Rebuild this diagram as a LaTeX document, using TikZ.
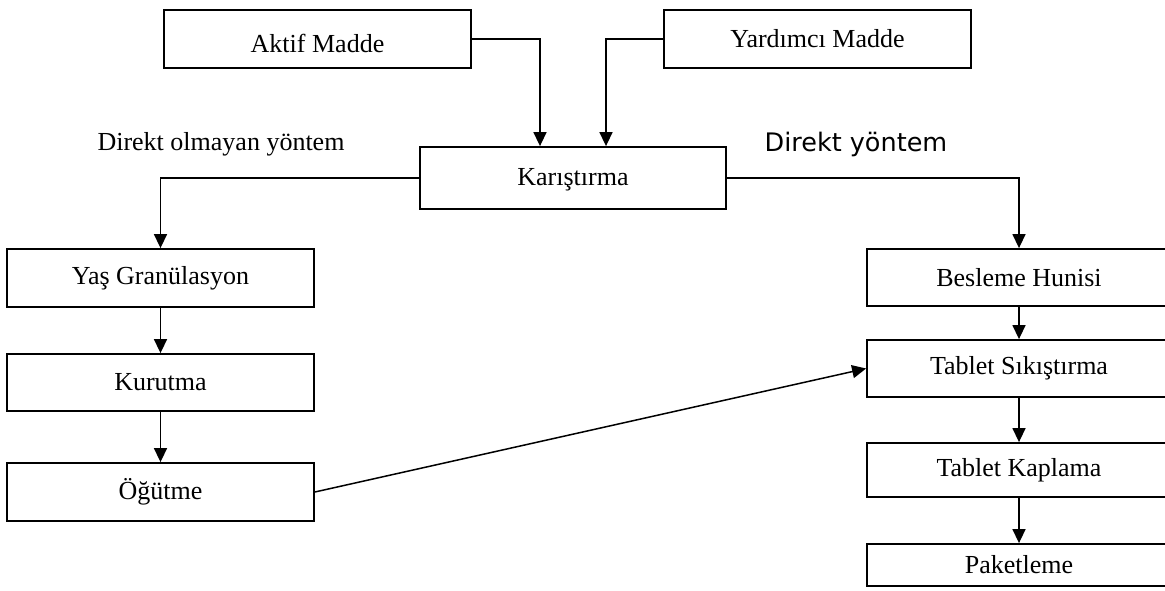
\documentclass[tikz,border=0pt]{standalone}
\usepackage{fontspec}
\setmainfont{Liberation Serif}
\newfontfamily\dejavu{DejaVu Sans}
\usetikzlibrary{arrows.meta}
\begin{document}
\begin{tikzpicture}[x=1pt,y=-1pt,
  box/.style={draw, line width=1.8pt, inner sep=0pt, minimum width=307pt, minimum height=58pt, font=\fontsize{26}{30}\selectfont},
  conn/.style={line width=1.5pt, -{Triangle[length=14pt,width=13pt]}},
  lbl/.style={anchor=base, inner sep=0pt, font=\fontsize{26}{30}\selectfont}]
\useasboundingbox (0,0) rectangle (1165,591);
\clip (0,0) rectangle (1165,591);
\fill[white] (0,0) rectangle (1165,591);
% top inputs
\node[box] (aktif) at (317.5,39) {\raisebox{-4pt}[\height][\depth]{Aktif Madde}};
\node[box] (yard) at (817.5,39) {Yardımcı Madde};
\node[box, minimum width=306pt, minimum height=62pt] (kar) at (573,178) {\raisebox{-2pt}[\height][\depth]{Karıştırma}};
% left column
\node[box] (yas) at (160.5,278) {Yaş Granülasyon};
\node[box, minimum height=57pt] (kur) at (160.5,382.5) {Kurutma};
\node[box] (ogut) at (160.5,492) {Öğütme};
% right column
\node[box, minimum width=304pt, minimum height=57pt] (bes) at (1019,277.5) {Besleme Hunisi};
\node[box, minimum width=304pt, minimum height=57pt] (sik) at (1019,368.5) {Tablet Sıkıştırma};
\node[box, minimum width=304pt, minimum height=54pt] (kap) at (1019,470) {Tablet Kaplama};
\node[box, minimum width=304pt, minimum height=42pt] (pak) at (1019,565) {Paketleme};
% labels
\node[lbl] (lblind) at (221,150) {Direkt olmayan yöntem};
\node[lbl, font=\dejavu\fontsize{25.5}{30}\selectfont] (lbldir) at (856,152) {Direkt yöntem};
% connectors
\draw[conn] (aktif.east) -| ([xshift=-33pt]kar.north);
\draw[conn] (yard.west) -| ([xshift=33pt]kar.north);
\draw[conn] (kar.west) -| (yas.north);
\draw[conn] (kar.east) -| (bes.north);
\draw[conn] (yas.south) -- (kur.north);
\draw[conn] (kur.south) -- (ogut.north);
\draw[conn] (ogut.east) -- (sik.west);
\draw[conn] (bes.south) -- (sik.north);
\draw[conn] (sik.south) -- (kap.north);
\draw[conn] (kap.south) -- (pak.north);
\end{tikzpicture}
\end{document}
